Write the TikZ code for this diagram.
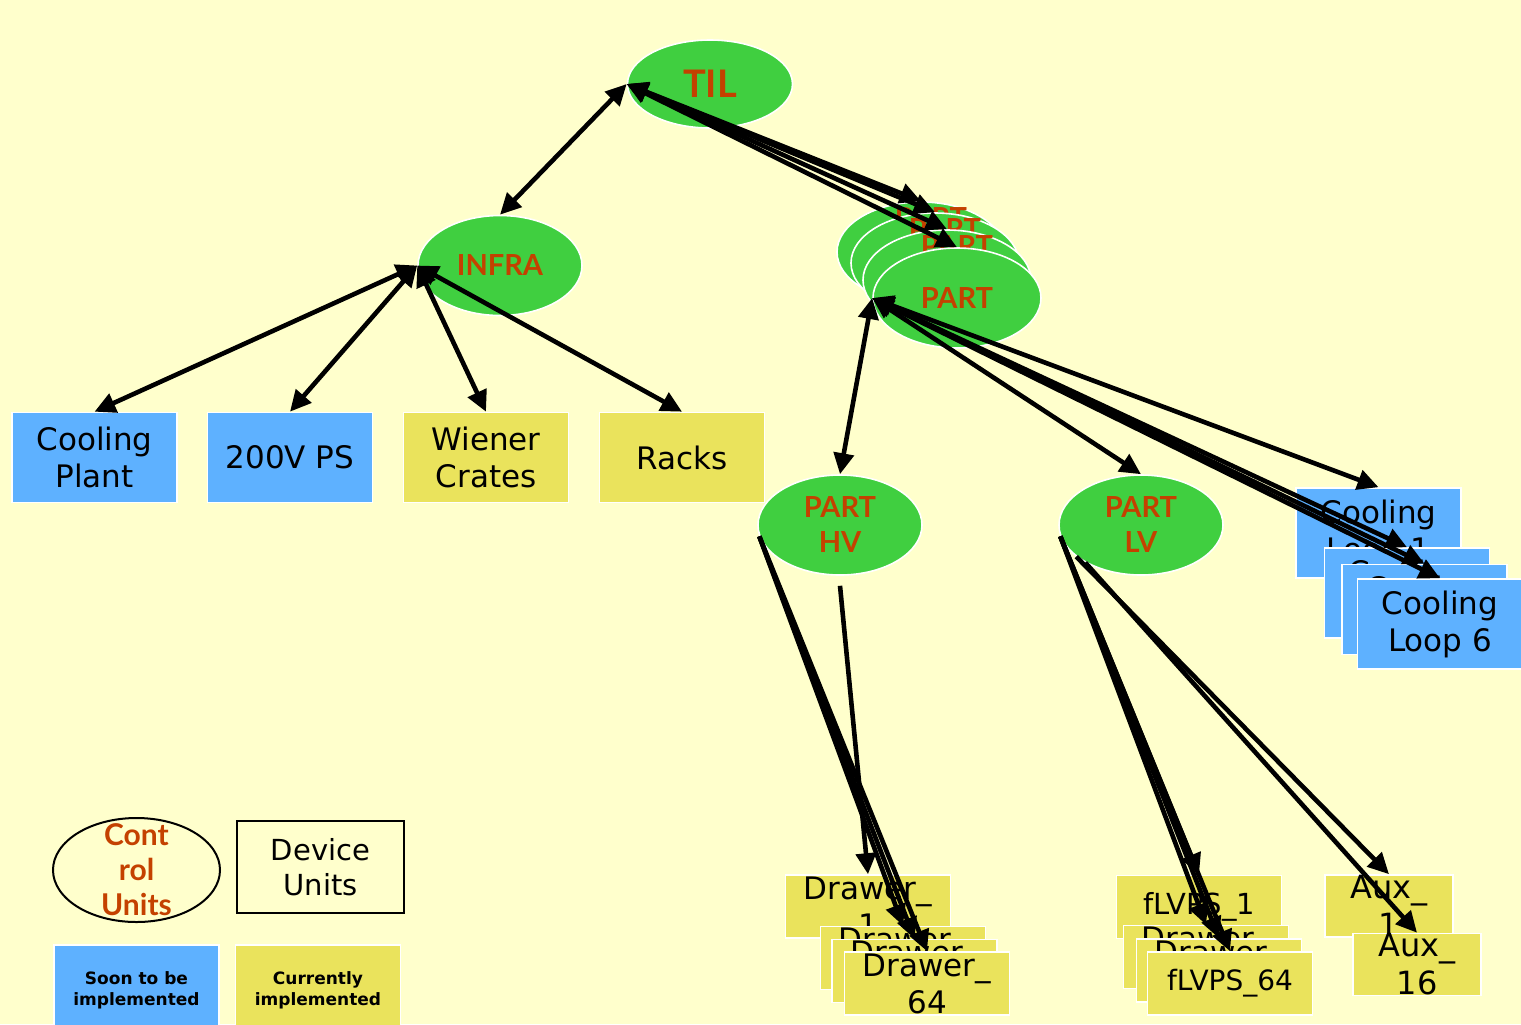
\documentclass[tikz,border=0pt]{standalone}
\usepackage{fontspec}
\setmainfont{DejaVu Sans}
\newfontfamily\gillish{Lato}
\usepackage{tikz}
\usetikzlibrary{arrows.meta,
shapes.geometric,
calc
}
\definecolor{bgyellow}{RGB}{255,255,204}
\definecolor{cugreen}{RGB}{64,207,64}
\definecolor{cured}{RGB}{196,65,0}
\definecolor{soonblue}{RGB}{94,177,255}
\definecolor{curryellow}{RGB}{234,227,92}
\tikzset{>={Triangle[length=10.5pt,width=10pt]}}
\tikzset{
  cunit/.style={ellipse, fill=cugreen, draw=white, line width=0.8pt,
    minimum width=82pt, minimum height=50pt, inner sep=0pt,
    text=cured, align=center, font=\gillish\bfseries\fontsize{14.5}{17.5}\selectfont},
  backtext/.style={text=cured, font=\gillish\bfseries\fontsize{14.5}{17.5}\selectfont,
    xshift=5pt, yshift=17pt},
  dunit/.style={rectangle, draw=white, line width=0.8pt, minimum width=82.5pt,
    minimum height=45pt, inner sep=0pt, align=center,
    font=\fontsize{15.5}{18.5}\selectfont},
  soon/.style={dunit, fill=soonblue},
  curr/.style={dunit, fill=curryellow},
  low/.style={minimum height=31.5pt},
  link/.style={line width=2.3pt}
}

\begin{document}
\begin{tikzpicture}[x=0.5pt, y=-0.5pt]
        \fill[bgyellow] (0, 0) rectangle (1521, 1024);
        \clip (0, 0) rectangle (1521, 1024);

        \node[cunit, minimum width=82.5pt, minimum height=44pt, font=\gillish\bfseries\fontsize{19}{22}\selectfont] (til) at (710, 84) {TIL};
        \node[cunit] (infra) at (500, 265.5) {INFRA};
        \node[cunit, minimum width=84pt, label={[backtext]center:PART}] (pa1) at (921, 252) {};
        \node[cunit, minimum width=84pt, label={[backtext]center:PART}] (pa2) at (935, 263) {};
        \node[cunit, minimum width=84pt, label={[backtext]center:PART}] (pa3) at (947, 280) {};
        \node[cunit, minimum width=84pt] (part) at (957, 298) {PART};
        \node[cunit] (hv) at (840, 525) {PART\\HV};
        \node[cunit] (lv) at (1141, 525) {PART\\LV};

        \node[soon] (plant) at (94.5, 457.5) {Cooling\\Plant};
        \node[soon] (ps) at (290, 457.5) {200V PS};
        \node[curr] (wiener) at (486, 457.5) {Wiener\\Crates};
        \node[curr] (racks) at (682, 457.5) {Racks};

        \node[soon] (cl1) at (1378.5, 533) {Cooling\\Loop 1};
        \node[soon] (cl2) at (1407, 593) {Cooling\\Loop 2};
        \node[soon] (cl3) at (1424.5, 609.5) {Cooling\\Loop 3};
        \node[soon] (cl4) at (1440, 624) {Cooling\\Loop 6};

        \node[curr, low] (dr1) at (868, 906.5) {Drawer\_\\1};
        \node[curr, low] (dr2) at (903, 958) {Drawer\_\\2};
        \node[curr, low] (dr3) at (914.5, 971) {Drawer\_\\3};
        \node[curr, low] (dr4) at (927, 983.5) {Drawer\_\\64};

        \node[curr, low, font=\fontsize{14.5}{18}\selectfont] (fl1) at (1199, 907) {fLVPS\_1};
        \node[curr, low] (fl2) at (1206, 957) {Drawer\_\\2};
        \node[curr, low] (fl3) at (1219, 970.5) {Drawer\_\\3};
        \node[curr, low, font=\fontsize{14}{17}\selectfont] (fl4) at (1230, 983.5) {fLVPS\_64};

        \node[curr, minimum width=64pt, minimum height=31pt, font=\fontsize{16}{19}\selectfont] (aux1) at (1389, 906) {Aux\_\\1};
        \node[curr, minimum width=64pt, minimum height=31pt, font=\fontsize{16}{19}\selectfont] (aux2) at (1417, 964.5) {Aux\_\\16};

        \node[ellipse, draw=black, line width=1pt, minimum width=83.5pt, minimum height=52pt, inner sep=0pt,
              label={[text=cured, align=center, font=\gillish\bfseries\fontsize{15}{17.5}\selectfont]center:Cont\\rol\\Units}] (cu) at (136.5, 870) {};
        \node[draw=black, line width=1.2pt, minimum width=83.5pt, minimum height=46pt, inner sep=0pt, align=center,
              font=\fontsize{14.5}{17.5}\selectfont] (du) at (320.5, 867) {Device\\Units};
        \node[soon, font=\bfseries\fontsize{8.5}{10.5}\selectfont] (lsoon) at (136.5, 990) {Soon to be\\implemented};
        \node[curr, font=\bfseries\fontsize{8.5}{10.5}\selectfont] (lcurr) at (318, 990) {Currently\\implemented};

        \draw[link, <->] (til.west) -- (infra.north);
        \foreach \p in {pa1, pa2, pa3, part}
            \draw[link, <->] (til.west) -- (\p.north);
        \foreach \b in {plant, ps, wiener, racks}
            \draw[link, <->] (infra.west) -- (\b.north);
        \draw[link, <->] (part.west) -- (hv.north);
        \foreach \b in {lv, cl1, cl2, cl3, cl4}
            \draw[link, <->] (part.west) -- (\b.north);

        \coordinate (hvfoot) at ($(hv.south) + (0, 10)$);
        \draw[link, ->] (hvfoot) -- (dr1.north);
        \foreach \b in {dr2, dr3, dr4}
            \draw[link, ->] (hv.188) -- (\b.north);
        \foreach \b in {fl1, fl2, fl3, fl4}
            \draw[link, ->] (lv.188) -- (\b.north);
        \draw[link, ->] (lv.206) -- (aux1.north);
        \draw[link, ->] (lv.214) -- (aux2.north);
\end{tikzpicture}
\end{document}
